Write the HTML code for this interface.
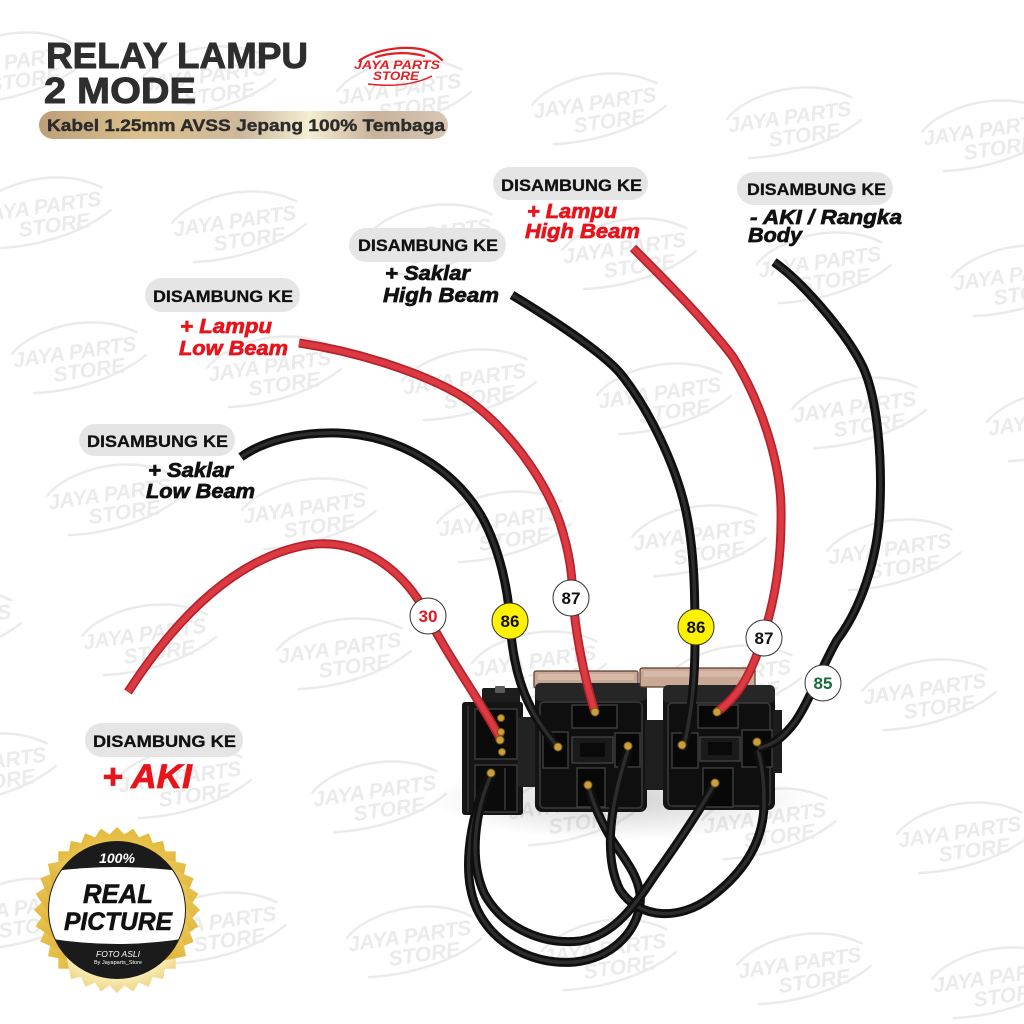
<!DOCTYPE html>
<html><head><meta charset="utf-8"><style>
html,body{margin:0;padding:0;background:#fff;}
svg{display:block;}
.wm text{font-family:"Liberation Sans",sans-serif;font-style:italic;font-weight:bold;font-size:21px;fill:#ebebeb;}
.wm path{fill:none;stroke:#ebebeb;stroke-width:2.5;stroke-linecap:round;}
.b{font-family:"Liberation Sans",sans-serif;font-weight:bold;}
.pill{fill:#e5e5e5;}
.pt{font-family:"Liberation Sans",sans-serif;font-weight:bold;font-size:17px;fill:#111;stroke:#111;stroke-width:0.3;}
.lab{font-family:"Liberation Sans",sans-serif;font-weight:bold;font-style:italic;font-size:20px;stroke-width:0.7;}
.red{fill:#e8141c;stroke:#e8141c;}
.blk{fill:#111;stroke:#111;}
.rO{fill:none;stroke:#b8222b;stroke-width:9;}
.rI{fill:none;stroke:#dc3a42;stroke-width:5.5;}
.kO{fill:none;stroke:#0f0f0f;stroke-width:9;}
.kI{fill:none;stroke:#2c2c2c;stroke-width:3.5;}
.num{font-family:"Liberation Sans",sans-serif;font-weight:bold;font-size:17px;text-anchor:middle;}
.gold{fill:#c9a13b;stroke:#7a5a14;stroke-width:1;}
</style></head><body>
<svg width="1024" height="1024" viewBox="0 0 1024 1024" xmlns="http://www.w3.org/2000/svg">
<defs>
<linearGradient id="gp" x1="0" y1="0" x2="1" y2="0">
<stop offset="0" stop-color="#bc9f7a"/><stop offset="0.25" stop-color="#dcc08c"/><stop offset="0.5" stop-color="#cdb89c"/><stop offset="0.66" stop-color="#f4eed2"/><stop offset="0.82" stop-color="#c8b29a"/><stop offset="1" stop-color="#d8c7b4"/>
</linearGradient>
<linearGradient id="gb" gradientUnits="userSpaceOnUse" x1="35" y1="830" x2="200" y2="990">
<stop offset="0" stop-color="#d9a516"/><stop offset="0.35" stop-color="#f3d874"/><stop offset="0.55" stop-color="#e0b43a"/><stop offset="0.8" stop-color="#f8eab0"/><stop offset="1" stop-color="#d7a52a"/>
</linearGradient>
<clipPath id="cc"><circle cx="117" cy="910" r="68"/></clipPath>
<radialGradient id="sh" cx="0.5" cy="0.5" r="0.5"><stop offset="0" stop-color="#000" stop-opacity="0.18"/><stop offset="1" stop-color="#000" stop-opacity="0"/></radialGradient>
</defs>
<rect width="1024" height="1024" fill="#fff"/>

<!-- watermarks -->
<g class="wm" transform="translate(10,65) rotate(-8)"><path d="M-62,-10 C-45,-26 -10,-34 20,-30 C38,-28 52,-22 64,-14"/><text x="-62" y="4" textLength="124">JAYA PARTS</text><text x="-24" y="24" textLength="72">STORE</text><path d="M-46,32 C-5,36 40,28 70,10"/></g>
<g class="wm" transform="translate(205,79) rotate(-8)"><path d="M-62,-10 C-45,-26 -10,-34 20,-30 C38,-28 52,-22 64,-14"/><text x="-62" y="4" textLength="124">JAYA PARTS</text><text x="-24" y="24" textLength="72">STORE</text><path d="M-46,32 C-5,36 40,28 70,10"/></g>
<g class="wm" transform="translate(400,92) rotate(-8)"><path d="M-62,-10 C-45,-26 -10,-34 20,-30 C38,-28 52,-22 64,-14"/><text x="-62" y="4" textLength="124">JAYA PARTS</text><text x="-24" y="24" textLength="72">STORE</text><path d="M-46,32 C-5,36 40,28 70,10"/></g>
<g class="wm" transform="translate(595,106) rotate(-8)"><path d="M-62,-10 C-45,-26 -10,-34 20,-30 C38,-28 52,-22 64,-14"/><text x="-62" y="4" textLength="124">JAYA PARTS</text><text x="-24" y="24" textLength="72">STORE</text><path d="M-46,32 C-5,36 40,28 70,10"/></g>
<g class="wm" transform="translate(790,120) rotate(-8)"><path d="M-62,-10 C-45,-26 -10,-34 20,-30 C38,-28 52,-22 64,-14"/><text x="-62" y="4" textLength="124">JAYA PARTS</text><text x="-24" y="24" textLength="72">STORE</text><path d="M-46,32 C-5,36 40,28 70,10"/></g>
<g class="wm" transform="translate(985,133) rotate(-8)"><path d="M-62,-10 C-45,-26 -10,-34 20,-30 C38,-28 52,-22 64,-14"/><text x="-62" y="4" textLength="124">JAYA PARTS</text><text x="-24" y="24" textLength="72">STORE</text><path d="M-46,32 C-5,36 40,28 70,10"/></g>

<g class="wm" transform="translate(40,210) rotate(-8)"><path d="M-62,-10 C-45,-26 -10,-34 20,-30 C38,-28 52,-22 64,-14"/><text x="-62" y="4" textLength="124">JAYA PARTS</text><text x="-24" y="24" textLength="72">STORE</text><path d="M-46,32 C-5,36 40,28 70,10"/></g>
<g class="wm" transform="translate(235,224) rotate(-8)"><path d="M-62,-10 C-45,-26 -10,-34 20,-30 C38,-28 52,-22 64,-14"/><text x="-62" y="4" textLength="124">JAYA PARTS</text><text x="-24" y="24" textLength="72">STORE</text><path d="M-46,32 C-5,36 40,28 70,10"/></g>
<g class="wm" transform="translate(430,237) rotate(-8)"><path d="M-62,-10 C-45,-26 -10,-34 20,-30 C38,-28 52,-22 64,-14"/><text x="-62" y="4" textLength="124">JAYA PARTS</text><text x="-24" y="24" textLength="72">STORE</text><path d="M-46,32 C-5,36 40,28 70,10"/></g>
<g class="wm" transform="translate(625,251) rotate(-8)"><path d="M-62,-10 C-45,-26 -10,-34 20,-30 C38,-28 52,-22 64,-14"/><text x="-62" y="4" textLength="124">JAYA PARTS</text><text x="-24" y="24" textLength="72">STORE</text><path d="M-46,32 C-5,36 40,28 70,10"/></g>
<g class="wm" transform="translate(820,265) rotate(-8)"><path d="M-62,-10 C-45,-26 -10,-34 20,-30 C38,-28 52,-22 64,-14"/><text x="-62" y="4" textLength="124">JAYA PARTS</text><text x="-24" y="24" textLength="72">STORE</text><path d="M-46,32 C-5,36 40,28 70,10"/></g>
<g class="wm" transform="translate(1015,278) rotate(-8)"><path d="M-62,-10 C-45,-26 -10,-34 20,-30 C38,-28 52,-22 64,-14"/><text x="-62" y="4" textLength="124">JAYA PARTS</text><text x="-24" y="24" textLength="72">STORE</text><path d="M-46,32 C-5,36 40,28 70,10"/></g>

<g class="wm" transform="translate(75,355) rotate(-8)"><path d="M-62,-10 C-45,-26 -10,-34 20,-30 C38,-28 52,-22 64,-14"/><text x="-62" y="4" textLength="124">JAYA PARTS</text><text x="-24" y="24" textLength="72">STORE</text><path d="M-46,32 C-5,36 40,28 70,10"/></g>
<g class="wm" transform="translate(270,369) rotate(-8)"><path d="M-62,-10 C-45,-26 -10,-34 20,-30 C38,-28 52,-22 64,-14"/><text x="-62" y="4" textLength="124">JAYA PARTS</text><text x="-24" y="24" textLength="72">STORE</text><path d="M-46,32 C-5,36 40,28 70,10"/></g>
<g class="wm" transform="translate(465,382) rotate(-8)"><path d="M-62,-10 C-45,-26 -10,-34 20,-30 C38,-28 52,-22 64,-14"/><text x="-62" y="4" textLength="124">JAYA PARTS</text><text x="-24" y="24" textLength="72">STORE</text><path d="M-46,32 C-5,36 40,28 70,10"/></g>
<g class="wm" transform="translate(660,396) rotate(-8)"><path d="M-62,-10 C-45,-26 -10,-34 20,-30 C38,-28 52,-22 64,-14"/><text x="-62" y="4" textLength="124">JAYA PARTS</text><text x="-24" y="24" textLength="72">STORE</text><path d="M-46,32 C-5,36 40,28 70,10"/></g>
<g class="wm" transform="translate(855,410) rotate(-8)"><path d="M-62,-10 C-45,-26 -10,-34 20,-30 C38,-28 52,-22 64,-14"/><text x="-62" y="4" textLength="124">JAYA PARTS</text><text x="-24" y="24" textLength="72">STORE</text><path d="M-46,32 C-5,36 40,28 70,10"/></g>
<g class="wm" transform="translate(1050,423) rotate(-8)"><path d="M-62,-10 C-45,-26 -10,-34 20,-30 C38,-28 52,-22 64,-14"/><text x="-62" y="4" textLength="124">JAYA PARTS</text><text x="-24" y="24" textLength="72">STORE</text><path d="M-46,32 C-5,36 40,28 70,10"/></g>

<g class="wm" transform="translate(110,497) rotate(-8)"><path d="M-62,-10 C-45,-26 -10,-34 20,-30 C38,-28 52,-22 64,-14"/><text x="-62" y="4" textLength="124">JAYA PARTS</text><text x="-24" y="24" textLength="72">STORE</text><path d="M-46,32 C-5,36 40,28 70,10"/></g>
<g class="wm" transform="translate(305,511) rotate(-8)"><path d="M-62,-10 C-45,-26 -10,-34 20,-30 C38,-28 52,-22 64,-14"/><text x="-62" y="4" textLength="124">JAYA PARTS</text><text x="-24" y="24" textLength="72">STORE</text><path d="M-46,32 C-5,36 40,28 70,10"/></g>
<g class="wm" transform="translate(500,524) rotate(-8)"><path d="M-62,-10 C-45,-26 -10,-34 20,-30 C38,-28 52,-22 64,-14"/><text x="-62" y="4" textLength="124">JAYA PARTS</text><text x="-24" y="24" textLength="72">STORE</text><path d="M-46,32 C-5,36 40,28 70,10"/></g>
<g class="wm" transform="translate(695,538) rotate(-8)"><path d="M-62,-10 C-45,-26 -10,-34 20,-30 C38,-28 52,-22 64,-14"/><text x="-62" y="4" textLength="124">JAYA PARTS</text><text x="-24" y="24" textLength="72">STORE</text><path d="M-46,32 C-5,36 40,28 70,10"/></g>
<g class="wm" transform="translate(890,552) rotate(-8)"><path d="M-62,-10 C-45,-26 -10,-34 20,-30 C38,-28 52,-22 64,-14"/><text x="-62" y="4" textLength="124">JAYA PARTS</text><text x="-24" y="24" textLength="72">STORE</text><path d="M-46,32 C-5,36 40,28 70,10"/></g>

<g class="wm" transform="translate(-50,623) rotate(-8)"><path d="M-62,-10 C-45,-26 -10,-34 20,-30 C38,-28 52,-22 64,-14"/><text x="-62" y="4" textLength="124">JAYA PARTS</text><text x="-24" y="24" textLength="72">STORE</text><path d="M-46,32 C-5,36 40,28 70,10"/></g>
<g class="wm" transform="translate(145,637) rotate(-8)"><path d="M-62,-10 C-45,-26 -10,-34 20,-30 C38,-28 52,-22 64,-14"/><text x="-62" y="4" textLength="124">JAYA PARTS</text><text x="-24" y="24" textLength="72">STORE</text><path d="M-46,32 C-5,36 40,28 70,10"/></g>
<g class="wm" transform="translate(340,651) rotate(-8)"><path d="M-62,-10 C-45,-26 -10,-34 20,-30 C38,-28 52,-22 64,-14"/><text x="-62" y="4" textLength="124">JAYA PARTS</text><text x="-24" y="24" textLength="72">STORE</text><path d="M-46,32 C-5,36 40,28 70,10"/></g>
<g class="wm" transform="translate(535,664) rotate(-8)"><path d="M-62,-10 C-45,-26 -10,-34 20,-30 C38,-28 52,-22 64,-14"/><text x="-62" y="4" textLength="124">JAYA PARTS</text><text x="-24" y="24" textLength="72">STORE</text><path d="M-46,32 C-5,36 40,28 70,10"/></g>
<g class="wm" transform="translate(730,678) rotate(-8)"><path d="M-62,-10 C-45,-26 -10,-34 20,-30 C38,-28 52,-22 64,-14"/><text x="-62" y="4" textLength="124">JAYA PARTS</text><text x="-24" y="24" textLength="72">STORE</text><path d="M-46,32 C-5,36 40,28 70,10"/></g>
<g class="wm" transform="translate(925,692) rotate(-8)"><path d="M-62,-10 C-45,-26 -10,-34 20,-30 C38,-28 52,-22 64,-14"/><text x="-62" y="4" textLength="124">JAYA PARTS</text><text x="-24" y="24" textLength="72">STORE</text><path d="M-46,32 C-5,36 40,28 70,10"/></g>

<g class="wm" transform="translate(-15,766) rotate(-8)"><path d="M-62,-10 C-45,-26 -10,-34 20,-30 C38,-28 52,-22 64,-14"/><text x="-62" y="4" textLength="124">JAYA PARTS</text><text x="-24" y="24" textLength="72">STORE</text><path d="M-46,32 C-5,36 40,28 70,10"/></g>
<g class="wm" transform="translate(180,780) rotate(-8)"><path d="M-62,-10 C-45,-26 -10,-34 20,-30 C38,-28 52,-22 64,-14"/><text x="-62" y="4" textLength="124">JAYA PARTS</text><text x="-24" y="24" textLength="72">STORE</text><path d="M-46,32 C-5,36 40,28 70,10"/></g>
<g class="wm" transform="translate(375,794) rotate(-8)"><path d="M-62,-10 C-45,-26 -10,-34 20,-30 C38,-28 52,-22 64,-14"/><text x="-62" y="4" textLength="124">JAYA PARTS</text><text x="-24" y="24" textLength="72">STORE</text><path d="M-46,32 C-5,36 40,28 70,10"/></g>
<g class="wm" transform="translate(570,807) rotate(-8)"><path d="M-62,-10 C-45,-26 -10,-34 20,-30 C38,-28 52,-22 64,-14"/><text x="-62" y="4" textLength="124">JAYA PARTS</text><text x="-24" y="24" textLength="72">STORE</text><path d="M-46,32 C-5,36 40,28 70,10"/></g>
<g class="wm" transform="translate(765,821) rotate(-8)"><path d="M-62,-10 C-45,-26 -10,-34 20,-30 C38,-28 52,-22 64,-14"/><text x="-62" y="4" textLength="124">JAYA PARTS</text><text x="-24" y="24" textLength="72">STORE</text><path d="M-46,32 C-5,36 40,28 70,10"/></g>
<g class="wm" transform="translate(960,835) rotate(-8)"><path d="M-62,-10 C-45,-26 -10,-34 20,-30 C38,-28 52,-22 64,-14"/><text x="-62" y="4" textLength="124">JAYA PARTS</text><text x="-24" y="24" textLength="72">STORE</text><path d="M-46,32 C-5,36 40,28 70,10"/></g>

<g class="wm" transform="translate(20,911) rotate(-8)"><path d="M-62,-10 C-45,-26 -10,-34 20,-30 C38,-28 52,-22 64,-14"/><text x="-62" y="4" textLength="124">JAYA PARTS</text><text x="-24" y="24" textLength="72">STORE</text><path d="M-46,32 C-5,36 40,28 70,10"/></g>
<g class="wm" transform="translate(215,925) rotate(-8)"><path d="M-62,-10 C-45,-26 -10,-34 20,-30 C38,-28 52,-22 64,-14"/><text x="-62" y="4" textLength="124">JAYA PARTS</text><text x="-24" y="24" textLength="72">STORE</text><path d="M-46,32 C-5,36 40,28 70,10"/></g>
<g class="wm" transform="translate(410,939) rotate(-8)"><path d="M-62,-10 C-45,-26 -10,-34 20,-30 C38,-28 52,-22 64,-14"/><text x="-62" y="4" textLength="124">JAYA PARTS</text><text x="-24" y="24" textLength="72">STORE</text><path d="M-46,32 C-5,36 40,28 70,10"/></g>
<g class="wm" transform="translate(605,952) rotate(-8)"><path d="M-62,-10 C-45,-26 -10,-34 20,-30 C38,-28 52,-22 64,-14"/><text x="-62" y="4" textLength="124">JAYA PARTS</text><text x="-24" y="24" textLength="72">STORE</text><path d="M-46,32 C-5,36 40,28 70,10"/></g>
<g class="wm" transform="translate(800,966) rotate(-8)"><path d="M-62,-10 C-45,-26 -10,-34 20,-30 C38,-28 52,-22 64,-14"/><text x="-62" y="4" textLength="124">JAYA PARTS</text><text x="-24" y="24" textLength="72">STORE</text><path d="M-46,32 C-5,36 40,28 70,10"/></g>
<g class="wm" transform="translate(995,980) rotate(-8)"><path d="M-62,-10 C-45,-26 -10,-34 20,-30 C38,-28 52,-22 64,-14"/><text x="-62" y="4" textLength="124">JAYA PARTS</text><text x="-24" y="24" textLength="72">STORE</text><path d="M-46,32 C-5,36 40,28 70,10"/></g>

<!-- Title -->
<text class="b" x="46" y="68" font-size="36" fill="#2e2e2e" stroke="#2e2e2e" stroke-width="0.9" textLength="262" lengthAdjust="spacingAndGlyphs">RELAY LAMPU</text>
<text class="b" x="44" y="103" font-size="36" fill="#2e2e2e" stroke="#2e2e2e" stroke-width="0.9" textLength="152" lengthAdjust="spacingAndGlyphs">2 MODE</text>
<rect x="39" y="111" width="409" height="28" rx="14" fill="url(#gp)"/>
<text class="b" x="47" y="131" font-size="17" fill="#2b2b2b" stroke="#2b2b2b" stroke-width="0.4" textLength="398" lengthAdjust="spacingAndGlyphs">Kabel 1.25mm AVSS Jepang 100% Tembaga</text>

<!-- Logo -->
<path d="M360,60 C372,52 392,47 412,48 C426,49 436,54 442,60 M376,57 C392,52 410,52 424,56" fill="none" stroke="#e31e24" stroke-width="2.2" stroke-linecap="round"/>
<text x="354" y="69" font-family="Liberation Sans, sans-serif" font-weight="bold" font-style="italic" font-size="12" fill="#e31e24" textLength="86" lengthAdjust="spacingAndGlyphs">JAYA PARTS</text>
<text x="373" y="80" font-family="Liberation Sans, sans-serif" font-weight="bold" font-style="italic" font-size="12" fill="#e31e24" textLength="46" lengthAdjust="spacingAndGlyphs">STORE</text>
<path d="M368,84 C392,87 414,85 432,76" fill="none" stroke="#e31e24" stroke-width="1.5"/>

<!-- shadow under relays -->
<ellipse cx="620" cy="800" rx="190" ry="40" fill="url(#sh)"/>

<!-- Relays -->
<rect x="482" y="688" width="38" height="17" rx="2" fill="#1c1c1c"/>
<rect x="495" y="686" width="10" height="7" rx="1" fill="#5a5a5a"/>
<rect x="462" y="702" width="61" height="113" rx="3" fill="#151515"/>
<line x1="468" y1="706" x2="468" y2="812" stroke="#363636" stroke-width="1.5"/>
<rect x="475" y="709" width="42" height="50" fill="#0b0b0b" stroke="#3a3a3a" stroke-width="1.5"/>
<rect x="475" y="765" width="42" height="47" fill="#0b0b0b" stroke="#3a3a3a" stroke-width="1.5"/>
<line x1="505" y1="768" x2="505" y2="810" stroke="#3a3a3a" stroke-width="1.5"/>
<rect x="518" y="717" width="20" height="70" fill="#222"/>
<rect x="534" y="671" width="104" height="17" rx="2" fill="#caa896" stroke="#5a3a2c" stroke-width="1.2"/>
<rect x="538" y="674" width="96" height="6" fill="#dcc0b0" opacity="0.7"/>
<rect x="535" y="683" width="112" height="129" rx="7" fill="#141414"/>
<rect x="535" y="683" width="112" height="18" rx="5" fill="#262626"/>
<rect x="540" y="702" width="102" height="106" rx="4" fill="#0f0f0f" stroke="#3b3b3b" stroke-width="1.5"/>
<rect x="572" y="705" width="45" height="23" fill="#080808" stroke="#444" stroke-width="1.3"/>
<rect x="543" y="732" width="25" height="36" fill="#080808" stroke="#444" stroke-width="1.3"/>
<rect x="572" y="737" width="41" height="26" fill="#1a1a1a" stroke="#444" stroke-width="1.3"/>
<rect x="580" y="743" width="25" height="14" fill="#0a0a0a"/>
<rect x="615" y="733" width="25" height="34" fill="#080808" stroke="#444" stroke-width="1.3"/>
<rect x="577" y="768" width="28" height="39" fill="#080808" stroke="#444" stroke-width="1.3"/>
<rect x="645" y="720" width="22" height="70" fill="#1e1e1e"/>
<rect x="640" y="668" width="115" height="19" rx="2" fill="#caa896" stroke="#5a3a2c" stroke-width="1.2"/>
<rect x="644" y="671" width="106" height="6" fill="#dcc0b0" opacity="0.7"/>
<rect x="663" y="685" width="112" height="125" rx="7" fill="#141414"/>
<rect x="663" y="685" width="112" height="18" rx="5" fill="#262626"/>
<rect x="668" y="703" width="102" height="103" rx="4" fill="#0f0f0f" stroke="#3b3b3b" stroke-width="1.5"/>
<rect x="698" y="705" width="40" height="23" fill="#080808" stroke="#444" stroke-width="1.3"/>
<rect x="672" y="733" width="26" height="35" fill="#080808" stroke="#444" stroke-width="1.3"/>
<rect x="700" y="737" width="40" height="24" fill="#1a1a1a" stroke="#444" stroke-width="1.3"/>
<rect x="708" y="742" width="24" height="13" fill="#0a0a0a"/>
<rect x="742" y="730" width="30" height="37" fill="#080808" stroke="#444" stroke-width="1.3"/>
<rect x="703" y="768" width="30" height="39" fill="#080808" stroke="#444" stroke-width="1.3"/>
<rect x="773" y="710" width="9" height="63" fill="#1c1c1c"/>

<!-- bottom black loops -->
<path class="kO" d="M490,775 C468,820 460,880 480,915 C500,950 540,965 575,962 C610,958 635,935 640,905 C643,880 625,860 612,840 C600,820 592,800 588,785"/>
<path class="kI" d="M490,775 C468,820 460,880 480,915 C500,950 540,965 575,962 C610,958 635,935 640,905 C643,880 625,860 612,840 C600,820 592,800 588,785"/>
<path class="kO" d="M628,750 C615,790 600,850 620,890 C640,920 680,920 710,898 C745,872 765,840 764,800 C764,780 762,765 758,750"/>
<path class="kI" d="M628,750 C615,790 600,850 620,890 C640,920 680,920 710,898 C745,872 765,840 764,800 C764,780 762,765 758,750"/>
<path class="kO" d="M492,773 C475,810 468,860 485,895 C505,930 545,945 580,941 C615,935 635,905 655,875 C680,840 700,810 715,783"/>
<path class="kI" d="M492,773 C475,810 468,860 485,895 C505,930 545,945 580,941 C615,935 635,905 655,875 C680,840 700,810 715,783"/>

<!-- main wires -->
<path class="rO" d="M128,692 C165,635 225,560 307,545 C360,537 405,570 428,617 C450,660 480,700 500,738"/>
<path class="rI" d="M128,692 C165,635 225,560 307,545 C360,537 405,570 428,617 C450,660 480,700 500,738"/>
<path class="kO" d="M241,457 C265,440 300,432 338,433 C400,435 455,470 482,517 C500,550 508,590 510,620 C513,680 530,715 558,747"/>
<path class="kI" d="M241,457 C265,440 300,432 338,433 C400,435 455,470 482,517 C500,550 508,590 510,620 C513,680 530,715 558,747"/>
<path class="rO" d="M299,343 C360,352 430,375 468,400 C510,430 545,480 560,523 C572,560 572,580 574,610 C578,650 588,690 595,712"/>
<path class="rI" d="M299,343 C360,352 430,375 468,400 C510,430 545,480 560,523 C572,560 572,580 574,610 C578,650 588,690 595,712"/>
<path class="kO" d="M512,295 C545,315 600,350 620,373 C650,410 675,465 685,507 C695,550 695,600 695,640 C695,690 690,720 683,750"/>
<path class="kI" d="M512,295 C545,315 600,350 620,373 C650,410 675,465 685,507 C695,550 695,600 695,640 C695,690 690,720 683,750"/>
<path class="rO" d="M633,248 C665,280 705,320 733,357 C760,400 780,460 781,507 C782,560 775,600 763,637 C752,672 740,695 717,712"/>
<path class="rI" d="M633,248 C665,280 705,320 733,357 C760,400 780,460 781,507 C782,560 775,600 763,637 C752,672 740,695 717,712"/>
<path class="kO" d="M774,262 C800,280 845,330 863,367 C878,400 882,460 880,507 C878,560 860,610 837,640 C820,670 810,700 795,722 C785,735 775,745 758,748"/>
<path class="kI" d="M774,262 C800,280 845,330 863,367 C878,400 882,460 880,507 C878,560 860,610 837,640 C820,670 810,700 795,722 C785,735 775,745 758,748"/>

<!-- gold terminals -->
<circle class="gold" cx="501" cy="718" r="3.5"/><circle class="gold" cx="501" cy="732" r="3.5"/><circle class="gold" cx="500" cy="740" r="4"/><circle class="gold" cx="502" cy="752" r="3.5"/>
<circle class="gold" cx="491" cy="773" r="4"/>
<circle class="gold" cx="595" cy="712" r="4"/><circle class="gold" cx="558" cy="747" r="4"/><circle class="gold" cx="628" cy="746" r="4"/><circle class="gold" cx="588" cy="785" r="4"/>
<circle class="gold" cx="717" cy="712" r="4"/><circle class="gold" cx="682" cy="745" r="4"/><circle class="gold" cx="757" cy="742" r="4"/><circle class="gold" cx="715" cy="783" r="4"/>

<!-- number circles -->
<circle cx="428" cy="616" r="18" fill="#fff" stroke="#333" stroke-width="1"/>
<text class="num" x="428" y="622" fill="#e5161d">30</text>
<circle cx="510" cy="621" r="18" fill="#fff200" stroke="#333" stroke-width="1"/>
<text class="num" x="510" y="627" fill="#111">86</text>
<circle cx="571" cy="598" r="18" fill="#fff" stroke="#333" stroke-width="1"/>
<text class="num" x="571" y="604" fill="#111">87</text>
<circle cx="696" cy="627" r="18" fill="#fff200" stroke="#333" stroke-width="1"/>
<text class="num" x="696" y="633" fill="#111">86</text>
<circle cx="764" cy="638" r="18" fill="#fff" stroke="#333" stroke-width="1"/>
<text class="num" x="764" y="644" fill="#111">87</text>
<circle cx="823" cy="683" r="18" fill="#fff" stroke="#333" stroke-width="1"/>
<text class="num" x="823" y="689" fill="#1b6b37">85</text>

<!-- labels -->
<rect class="pill" x="145" y="278" width="155" height="34" rx="17"/>
<text class="pt" x="153" y="302" textLength="140" lengthAdjust="spacingAndGlyphs">DISAMBUNG KE</text>
<text class="lab red" x="180" y="333" textLength="92" lengthAdjust="spacingAndGlyphs">+ Lampu</text>
<text class="lab red" x="179" y="355" textLength="109" lengthAdjust="spacingAndGlyphs">Low Beam</text>

<rect class="pill" x="79" y="424" width="156" height="32" rx="16"/>
<text class="pt" x="87" y="447" textLength="141" lengthAdjust="spacingAndGlyphs">DISAMBUNG KE</text>
<text class="lab blk" x="148" y="477" textLength="85" lengthAdjust="spacingAndGlyphs">+ Saklar</text>
<text class="lab blk" x="146" y="498" textLength="109" lengthAdjust="spacingAndGlyphs">Low Beam</text>

<rect class="pill" x="349" y="228" width="157" height="34" rx="17"/>
<text class="pt" x="358" y="251" textLength="140" lengthAdjust="spacingAndGlyphs">DISAMBUNG KE</text>
<text class="lab blk" x="385" y="280" textLength="85" lengthAdjust="spacingAndGlyphs">+ Saklar</text>
<text class="lab blk" x="383" y="302" textLength="116" lengthAdjust="spacingAndGlyphs">High Beam</text>

<rect class="pill" x="493" y="167" width="155" height="33" rx="16.5"/>
<text class="pt" x="501" y="191" textLength="141" lengthAdjust="spacingAndGlyphs">DISAMBUNG KE</text>
<text class="lab red" x="527" y="218" textLength="90" lengthAdjust="spacingAndGlyphs">+ Lampu</text>
<text class="lab red" x="525" y="238" textLength="115" lengthAdjust="spacingAndGlyphs">High Beam</text>

<rect class="pill" x="737" y="172" width="156" height="33" rx="16.5"/>
<text class="pt" x="747" y="195" textLength="139" lengthAdjust="spacingAndGlyphs">DISAMBUNG KE</text>
<text class="lab blk" x="750" y="224" textLength="152" lengthAdjust="spacingAndGlyphs">- AKI / Rangka</text>
<text class="lab blk" x="748" y="242" textLength="54" lengthAdjust="spacingAndGlyphs">Body</text>

<rect class="pill" x="85" y="723" width="158" height="34" rx="17"/>
<text class="pt" x="93" y="747" textLength="143" lengthAdjust="spacingAndGlyphs">DISAMBUNG KE</text>
<text x="102" y="788" font-family="Liberation Sans, sans-serif" font-weight="bold" font-style="italic" font-size="34" fill="#e8141c" stroke="#e8141c" stroke-width="0.8" textLength="90" lengthAdjust="spacingAndGlyphs">+ AKI</text>

<!-- Badge -->
<g fill="url(#gb)">
<rect x="58.3" y="851.3" width="117.4" height="117.4" transform="rotate(0 117 910)"/>
<rect x="58.3" y="851.3" width="117.4" height="117.4" transform="rotate(11.25 117 910)"/>
<rect x="58.3" y="851.3" width="117.4" height="117.4" transform="rotate(22.5 117 910)"/>
<rect x="58.3" y="851.3" width="117.4" height="117.4" transform="rotate(33.75 117 910)"/>
<rect x="58.3" y="851.3" width="117.4" height="117.4" transform="rotate(45 117 910)"/>
<rect x="58.3" y="851.3" width="117.4" height="117.4" transform="rotate(56.25 117 910)"/>
<rect x="58.3" y="851.3" width="117.4" height="117.4" transform="rotate(67.5 117 910)"/>
<rect x="58.3" y="851.3" width="117.4" height="117.4" transform="rotate(78.75 117 910)"/>
</g>
<circle cx="117" cy="910" r="69" fill="#1b1b1b"/>
<path clip-path="url(#cc)" d="M40,873 Q117,861 194,873 L194,937 Q117,951 40,937 Z" fill="#fff"/>
<text x="117" y="863" text-anchor="middle" font-family="Liberation Sans, sans-serif" font-weight="bold" font-style="italic" font-size="14" fill="#fff">100%</text>
<text x="118" y="903" text-anchor="middle" font-family="Liberation Sans, sans-serif" font-weight="bold" font-style="italic" font-size="27" fill="#111" stroke="#111" stroke-width="0.6" textLength="70" lengthAdjust="spacingAndGlyphs">REAL</text>
<text x="118" y="930" text-anchor="middle" font-family="Liberation Sans, sans-serif" font-weight="bold" font-style="italic" font-size="25" fill="#111" stroke="#111" stroke-width="0.6" textLength="108" lengthAdjust="spacingAndGlyphs">PICTURE</text>
<text x="118" y="957" text-anchor="middle" font-family="Liberation Sans, sans-serif" font-style="italic" font-size="8.5" fill="#fff">FOTO ASLI</text>
<text x="118" y="964" text-anchor="middle" font-family="Liberation Sans, sans-serif" font-size="5.5" fill="#fff">By Jayaparts_Store</text>
</svg>
</body></html>
